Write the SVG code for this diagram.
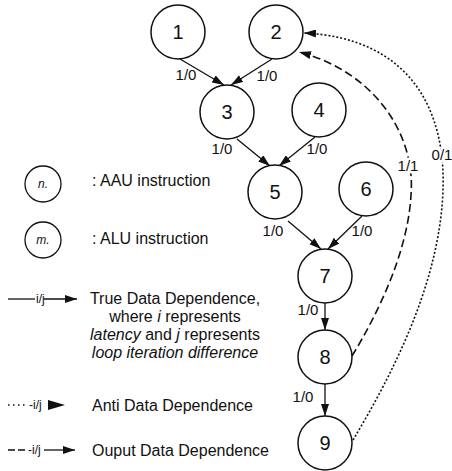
<svg xmlns="http://www.w3.org/2000/svg" width="452" height="471" viewBox="0 0 452 471">
  <style>
    .node circle { fill: #fff; stroke: #111; stroke-width: 1.5; }
    .node text { font-family: "Liberation Sans", Arial, sans-serif; font-size: 20px; text-anchor: middle; fill: #111; }
    .edge { fill: none; stroke: #111; stroke-width: 1.3; }
    .dash { stroke-dasharray: 8 4; stroke-width: 1.6; }
    .dot { stroke-dasharray: 2 2; stroke-width: 1.6; }
    .lbl { font-family: "Liberation Sans", Arial, sans-serif; font-size: 15px; fill: #111; text-anchor: middle; }
    .halo { stroke: #fff; stroke-width: 5; paint-order: stroke; stroke-linejoin: round; }
    .leg { font-family: "Liberation Sans", Arial, sans-serif; font-size: 16px; fill: #111; }
    .sym { font-family: "Liberation Sans", Arial, sans-serif; font-size: 12px; fill: #111; }
    .it { font-style: italic; }
  </style>
  <defs>
    <marker id="arr" viewBox="0 0 12 8" refX="12" refY="4" markerWidth="12" markerHeight="8" orient="auto" markerUnits="userSpaceOnUse">
      <path d="M0,0 L12,4 L0,8 z" fill="#111"/>
    </marker>
  </defs>

  <!-- dependence edges -->
  <g id="edges">
    <path class="edge" d="M180,59 L224,85" marker-end="url(#arr)"/>
    <path class="edge" d="M272,59 L231,85" marker-end="url(#arr)"/>
    <path class="edge" d="M237,139 L270,166" marker-end="url(#arr)"/>
    <path class="edge" d="M315,137 L279,166" marker-end="url(#arr)"/>
    <path class="edge" d="M288,221 L321,249" marker-end="url(#arr)"/>
    <path class="edge" d="M362,216 L328,249" marker-end="url(#arr)"/>
    <path class="edge" d="M325,303 L325,330" marker-end="url(#arr)"/>
    <path class="edge" d="M325,384 L325,416" marker-end="url(#arr)"/>
    <!-- output dependence 8 -> 2 -->
    <path class="edge dash" d="M352,356 C380,310 408,250 411,195 C416,135 375,72 299,52" marker-end="url(#arr)"/>
    <!-- anti dependence 9 -> 2 -->
    <path class="edge dot" d="M353,440 C395,370 440,280 443,190 C446,110 410,38 304,33" marker-end="url(#arr)"/>

    <text class="lbl" x="186" y="80">1/0</text>
    <text class="lbl" x="267" y="81">1/0</text>
    <text class="lbl" x="222" y="154">1/0</text>
    <text class="lbl" x="317" y="154">1/0</text>
    <text class="lbl" x="273" y="236">1/0</text>
    <text class="lbl" x="362" y="236">1/0</text>
    <text class="lbl" x="308" y="315">1/0</text>
    <text class="lbl" x="303" y="402">1/0</text>
    <text class="lbl halo" x="408" y="171">1/1</text>
    <text class="lbl halo" x="442" y="160">0/1</text>
  </g>

  <!-- instruction nodes -->
  <g id="n1" class="node"><circle cx="178" cy="32" r="27"/><text x="178" y="39">1</text></g>
  <g id="n2" class="node"><circle cx="276" cy="32" r="27"/><text x="276" y="39">2</text></g>
  <g id="n3" class="node"><circle cx="227" cy="112" r="27"/><text x="227" y="119">3</text></g>
  <g id="n4" class="node"><circle cx="319" cy="110" r="27"/><text x="319" y="117">4</text></g>
  <g id="n5" class="node"><circle cx="275" cy="192" r="27"/><text x="275" y="199">5</text></g>
  <g id="n6" class="node"><circle cx="366" cy="189" r="27"/><text x="366" y="196">6</text></g>
  <g id="n7" class="node"><circle cx="325" cy="276" r="27"/><text x="325" y="283">7</text></g>
  <g id="n8" class="node"><circle cx="325" cy="357" r="27"/><text x="325" y="364">8</text></g>
  <g id="n9" class="node"><circle cx="325" cy="443" r="27"/><text x="325" y="450">9</text></g>

  <!-- legend -->
  <g id="legend">
    <circle cx="43" cy="184" r="18" fill="#fff" stroke="#111" stroke-width="1.3"/>
    <text class="sym it" x="43" y="188" text-anchor="middle">n.</text>
    <text class="leg" x="92" y="186">: AAU instruction</text>

    <circle cx="43" cy="240" r="18" fill="#fff" stroke="#111" stroke-width="1.3"/>
    <text class="sym it" x="43" y="244" text-anchor="middle">m.</text>
    <text class="leg" x="92" y="244">: ALU instruction</text>

    <path class="edge" d="M8,299 L35,299"/>
    <text class="sym" x="36" y="303">i/j</text>
    <path class="edge" d="M44,299 L77,299" marker-end="url(#arr)"/>
    <text class="leg" x="175" y="304" text-anchor="middle">True Data Dependence,</text>
    <text class="leg" x="175" y="322" text-anchor="middle">where <tspan class="it">i</tspan> represents</text>
    <text class="leg" x="175" y="340" text-anchor="middle"><tspan class="it">latency</tspan> and <tspan class="it">j</tspan> represents</text>
    <text class="leg it" x="175" y="358" text-anchor="middle">loop iteration difference</text>

    <path class="edge" d="M8,405 L27,405" stroke-dasharray="1.5 3.5" stroke-width="1.6"/>
    <text class="sym" x="29" y="409">-i/j</text>
    <path d="M48,400 L65,405 L48,410 z" fill="#111"/>
    <text class="leg" x="92" y="411">Anti Data Dependence</text>

    <path class="edge" d="M8,450 L15,450 M18,450 L25,450"/>
    <text class="sym" x="28" y="454">-i/j</text>
    <path class="edge" d="M44,450 L75,450" marker-end="url(#arr)"/>
    <text class="leg" x="92" y="456">Ouput Data Dependence</text>
  </g>
</svg>
